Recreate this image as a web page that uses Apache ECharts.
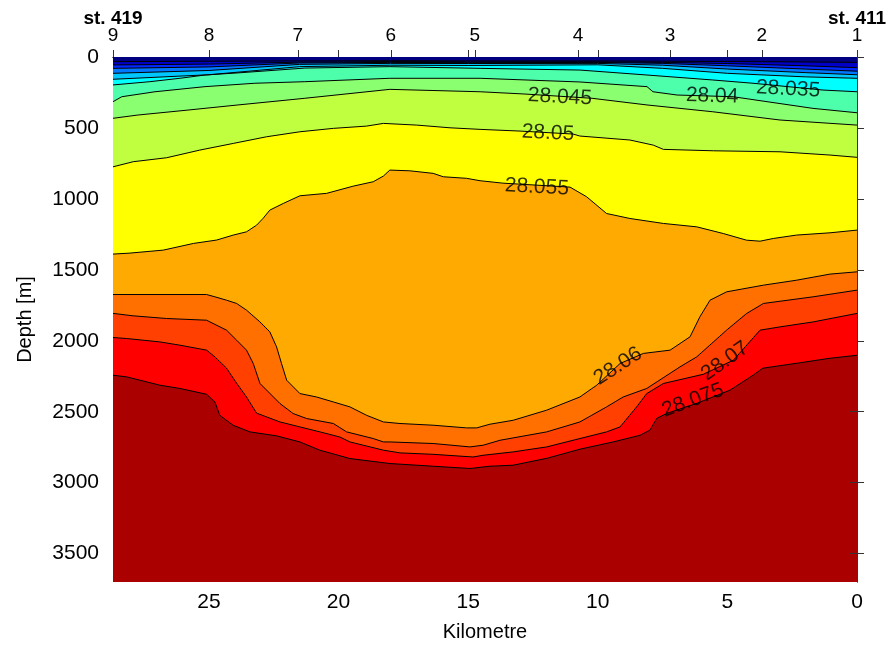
<!DOCTYPE html>
<html>
<head>
<meta charset="utf-8">
<script src="https://cdn.jsdelivr.net/npm/echarts@6.0.0/dist/echarts.min.js"></script>
<style>
html,body{margin:0;padding:0;background:#fff;}
#chart{width:896px;height:647px;}
</style>
</head>
<body>
<div id="chart"></div>
<script>
// ---- data: isopycnal depths [kilometre, depth m] ----
const iso2801  = [[28.7,33],[25,30],[21.5,28],[18,26],[15,28],[10,28],[7.5,30],[5,32],[2,35],[0,38]];
const iso28015 = [[28.7,56],[25,50],[21.5,36],[18,32],[15,34],[10,34],[7.5,38],[5,46],[2,62],[0,75]];
const iso2802  = [[28.7,80],[25,70],[21.5,42],[18,38],[15,40],[10,38],[7.5,45],[5,62],[2,85],[0,100]];
const iso28025 = [[28.7,115],[25,95],[21.5,52],[18,45],[15,46],[10,45],[7.5,58],[5,85],[2,110],[0,125]];
const iso2803  = [[28.7,157],[25,125],[21.5,68],[18,58],[15,60],[10,55],[7.5,80],[5,115],[2,140],[0,150]];
const iso28035 = [[28.7,197],[27.28,174],[26.12,150],[25.15,127],[23.8,111],[21.3,78],[18.02,68],[14.54,80],[10.69,92],[8.1,127],[5.56,162],[4.01,185],[1.31,233],[0,245]];
const iso2804  = [[28.7,315],[28.36,280],[27.08,245],[25.15,209],[23.23,185],[21.3,174],[18.02,150],[14.54,150],[10.69,176],[8.1,209],[7.87,245],[6.94,268],[4.78,280],[1.7,362],[0,393]];
const iso28045 = [[28.7,432],[27.74,409],[25.81,374],[23.88,338],[21.3,291],[18.02,228],[14.54,245],[12.81,261],[10.22,291],[8.1,338],[5.56,386],[2.97,444],[0,480]];
const iso2805  = [[28.7,774],[27.92,738],[26.63,710],[25.35,656],[24.06,609],[22.77,562],[21.49,527],[20.2,503],[18.92,487],[18.27,468],[16.98,480],[15.7,499],[14.54,510],[13.0,522],[10.95,543],[10.69,557],[8.76,585],[7.86,621],[7.47,651],[5.54,661],[2.97,668],[1.04,691],[0,707]];
const iso28055 = [[28.7,1389],[28.05,1382],[26.76,1361],[25.6,1314],[24.7,1290],[24.06,1255],[23.55,1232],[23.16,1185],[22.91,1137],[22.65,1079],[22.13,1032],[21.49,978],[20.46,961],[19.43,910],[18.66,879],[18.27,839],[18.02,797],[17.25,802],[16.35,820],[15.96,844],[15.06,855],[14.54,872],[13.66,889],[11.07,917],[10.43,985],[9.66,1103],[8.76,1138],[7.47,1173],[6.18,1197],[5.16,1244],[4.26,1291],[3.74,1298],[3.23,1279],[2.33,1255],[1.04,1239],[0,1220]];
const iso2806  = [[28.7,1674],[25.09,1674],[24.77,1690],[24.32,1714],[23.93,1737],[23.55,1784],[23.03,1867],[22.65,1937],[22.39,2043],[22.2,2160],[22.0,2278],[21.49,2372],[20.85,2396],[20.2,2431],[19.56,2466],[18.92,2525],[18.27,2572],[17.63,2583],[16.35,2595],[15.06,2614],[14.67,2614],[14.16,2588],[13.26,2560],[11.97,2489],[10.69,2396],[10.04,2313],[9.14,2160],[8.24,2089],[7.21,2066],[6.44,1972],[6.06,1831],[5.67,1714],[5.03,1655],[3.61,1608],[2.33,1573],[1.04,1530],[0,1514]];
const iso28065 = [[28.7,1807],[27.93,1824],[26.63,1843],[25.09,1855],[24.96,1867],[24.32,1925],[23.93,1996],[23.55,2066],[23.29,2160],[23.03,2301],[22.26,2442],[21.75,2513],[21.23,2548],[20.2,2583],[19.69,2642],[18.66,2689],[18.27,2713],[18.02,2713],[16.35,2724],[14.93,2748],[14.42,2736],[13.77,2701],[11.97,2642],[10.69,2572],[9.66,2466],[9.02,2396],[8.11,2336],[6.83,2184],[6.18,2113],[5.03,1925],[4.26,1808],[3.61,1737],[1.69,1690],[0,1643]];
const iso2807  = [[28.7,1977],[28.18,1984],[26.89,2008],[26.12,2031],[25.09,2066],[24.77,2113],[24.32,2193],[23.93,2299],[23.55,2396],[23.16,2510],[22.26,2572],[21.49,2607],[20.72,2642],[19.95,2678],[19.56,2713],[18.27,2771],[17.63,2790],[16.36,2800],[14.81,2819],[14.43,2807],[13.26,2783],[11.97,2748],[10.69,2689],[9.66,2642],[9.14,2607],[8.5,2466],[8.11,2372],[7.47,2301],[5.93,2236],[4.77,2137],[3.74,1925],[2.97,1902],[1.69,1867],[0,1807]];
const iso28075 = [[28.7,2243],[28.18,2254],[26.89,2313],[26.12,2336],[25.09,2377],[24.77,2431],[24.58,2525],[24.07,2595],[23.42,2642],[22.39,2670],[21.49,2713],[20.72,2771],[19.56,2830],[18.02,2865],[16.36,2884],[14.93,2900],[14.16,2884],[13.27,2877],[11.96,2828],[10.69,2764],[9.41,2713],[8.37,2666],[7.99,2630],[7.72,2546],[7.33,2511],[6.17,2440],[4.9,2348],[4.01,2243],[3.63,2193],[2.31,2158],[1.04,2123],[0,2102]];

// deepest first
const levelNames = ['28.075','28.07','28.065','28.06','28.055','28.05','28.045','28.04','28.035','28.03','28.025','28.02','28.015','28.01'];
const levelData  = [iso28075, iso2807, iso28065, iso2806, iso28055, iso2805, iso28045, iso2804, iso28035, iso2803, iso28025, iso2802, iso28015, iso2801];

// contour labels
const labelText  = ['28.035','28.04','28.045','28.05','28.055','28.06','28.07','28.075'];
const labelKm    = [2.66, 5.59, 11.46, 11.92, 12.35, 9.22, 5.09, 6.33];
const labelDepth = [226, 275, 282, 536, 917, 2179, 2144, 2419];

// stations along the top
const stationKm    = [28.7, 25.0, 21.57, 17.98, 14.74, 10.76, 7.21, 3.67, 0];
const stationNames = ['9','8','7','6','5','4','3','2','1'];
const stationHeads = ['st. 419','','','','','','','','st. 411'];

const kmTicks    = [0, 5, 10, 15, 20, 25];
const depthTicks = [0, 500, 1000, 1500, 2000, 2500, 3000, 3500];

// ---- styles ----
const fillAbove = ['#FF0000','#FF4000','#FF7000','#FFAA00','#FFFF00','#C0FF40','#8AFF70','#4DFFAA','#00FFFF','#00C8FF','#0078FF','#0028FF','#0000C8','#000080'];
const bottomColor = '#AA0000';
const labelRotate = [-3, -2, -3, -3, -3, 33, 35, 20];
const FONT = 'Liberation Sans, Arial, sans-serif';
const axisCol = '#333';

const series = levelData.map((d, i) => ({
  type: 'line',
  name: levelNames[i],
  data: d,
  showSymbol: false,
  symbol: 'none',
  smooth: false,
  silent: true,
  lineStyle: { color: '#000', width: 1 },
  areaStyle: { color: fillAbove[i], opacity: 1, origin: 'start' },
  z: 2
}));

series.push({
  type: 'scatter',
  symbolSize: 0,
  silent: true,
  z: 10,
  data: labelText.map((t, i) => ({
    name: t,
    value: [labelKm[i], labelDepth[i]],
    label: { rotate: labelRotate[i] }
  })),
  label: {
    show: true,
    position: 'inside',
    formatter: p => p.name,
    color: '#000',
    fontFamily: FONT,
    fontSize: 21
  }
});

const chart = echarts.init(document.getElementById('chart'), null, { renderer: 'canvas' });
chart.setOption({
  animation: false,
  backgroundColor: '#fff',
  grid: { left: 113, right: 39, top: 57, bottom: 65, show: true, backgroundColor: bottomColor, borderWidth: 0 },
  xAxis: [
    {
      type: 'value', min: 0, max: 28.7, inverse: true, position: 'bottom',
      name: 'Kilometre', nameLocation: 'middle', nameGap: 40,
      nameTextStyle: { fontFamily: FONT, fontSize: 20, color: '#000' },
      axisLine: { show: true, lineStyle: { color: axisCol, width: 1 } },
      axisTick: { show: true, inside: false, length: 8, customValues: kmTicks, lineStyle: { color: axisCol } },
      axisLabel: { customValues: kmTicks, margin: 10, fontFamily: FONT, fontSize: 21, color: '#000', formatter: v => String(v) },
      splitLine: { show: false }
    },
    {
      type: 'value', min: 0, max: 28.7, inverse: true, position: 'top',
      axisLine: { show: true, lineStyle: { color: axisCol, width: 1 } },
      axisTick: { show: true, inside: false, length: 7, customValues: stationKm.concat([5, 10, 15, 20, 25]), lineStyle: { color: axisCol } },
      axisLabel: {
        customValues: stationKm, margin: 12, fontFamily: FONT, fontSize: 19, color: '#000',
        formatter: v => {
          let idx = -1;
          stationKm.forEach((k, i) => { if (Math.abs(k - v) < 1e-6) idx = i; });
          if (idx < 0) return '';
          const h = stationHeads[idx];
          return h ? '{b|' + h + '}\n{n|' + stationNames[idx] + '}' : '{n|' + stationNames[idx] + '}';
        },
        rich: {
          b: { fontFamily: FONT, fontSize: 19, fontWeight: 'bold', color: '#000', lineHeight: 15 },
          n: { fontFamily: FONT, fontSize: 19, color: '#000', lineHeight: 19 }
        }
      },
      splitLine: { show: false }
    }
  ],
  yAxis: [
    {
      type: 'value', min: 0, max: 3700, inverse: true, position: 'left',
      name: 'Depth [m]', nameLocation: 'middle', nameGap: 78, nameRotate: 90,
      nameTextStyle: { fontFamily: FONT, fontSize: 20, color: '#000' },
      axisLine: { show: true, lineStyle: { color: axisCol, width: 1 } },
      axisTick: { show: true, inside: false, length: 8, customValues: depthTicks, lineStyle: { color: axisCol } },
      axisLabel: { customValues: depthTicks, margin: 14, fontFamily: FONT, fontSize: 21, color: '#000', formatter: v => String(v) },
      splitLine: { show: false }
    },
    {
      type: 'value', min: 0, max: 3700, inverse: true, position: 'right',
      axisLine: { show: true, lineStyle: { color: axisCol, width: 1 } },
      axisTick: { show: true, inside: false, length: 7, customValues: depthTicks, lineStyle: { color: axisCol } },
      axisLabel: { show: false },
      splitLine: { show: false }
    }
  ],
  series: series
});
</script>
</body>
</html>
